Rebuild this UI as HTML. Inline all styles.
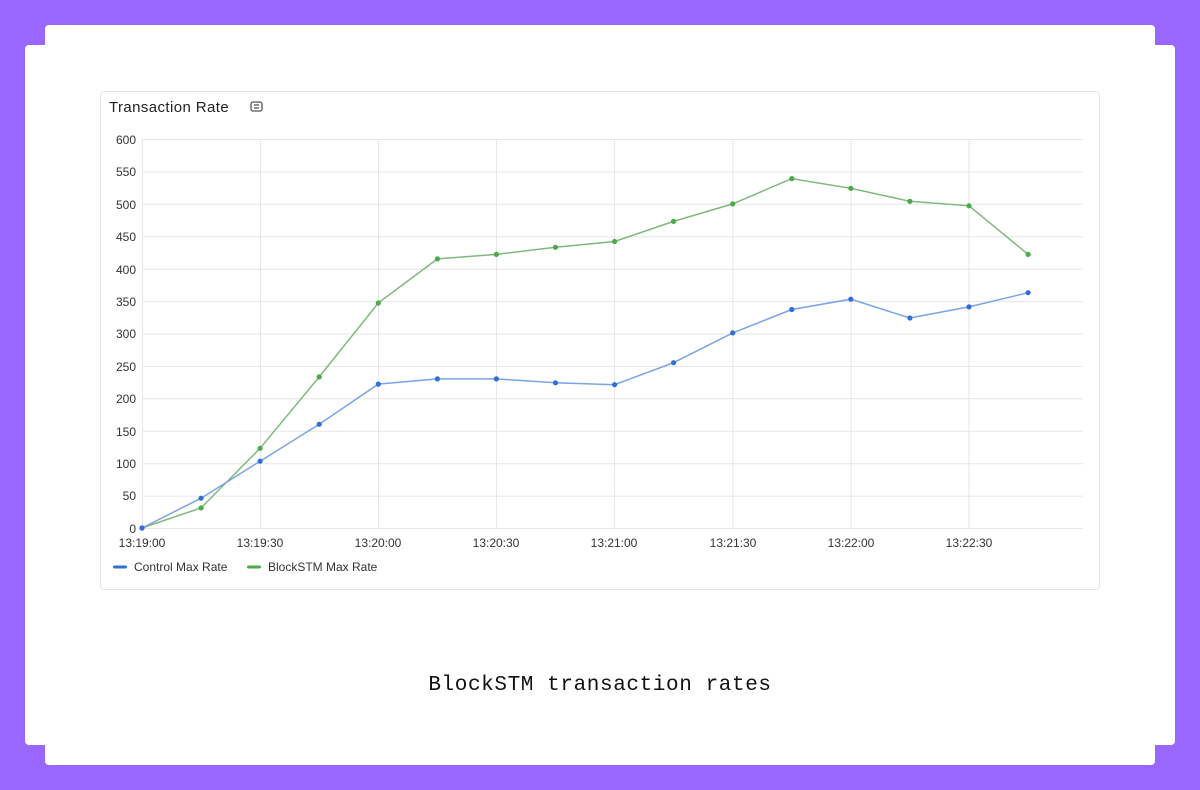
<!DOCTYPE html>
<html><head><style>
body{margin:0;width:1200px;height:790px;background:#9966ff;position:relative;overflow:hidden;font-family:"Liberation Sans",sans-serif}
.w{position:absolute;background:#fff;border-radius:4px}
</style></head><body>
<div class="w" style="left:45px;top:25px;width:1110px;height:740px"></div>
<div class="w" style="left:25px;top:45px;width:1150px;height:700px"></div>
<svg width="1200" height="790" style="position:absolute;left:0;top:0" font-family="Liberation Sans, sans-serif">
<rect x="100.5" y="91.5" width="999" height="498" rx="4" fill="#fff" stroke="#e4e4e7"/>
<text x="109" y="112" font-size="15" letter-spacing="0.4" fill="#222">Transaction Rate</text>
<g fill="none" stroke="#555" stroke-width="1.3"><rect x="251" y="102" width="11" height="9" rx="2"/><line x1="254" y1="105" x2="259" y2="105"/><line x1="254" y1="108" x2="259" y2="108"/></g>
<g stroke="#e6e6e6" stroke-width="1">
<line x1="142" x2="1083" y1="139.5" y2="139.5"/><line x1="142" x2="1083" y1="171.9" y2="171.9"/><line x1="142" x2="1083" y1="204.3" y2="204.3"/><line x1="142" x2="1083" y1="236.8" y2="236.8"/><line x1="142" x2="1083" y1="269.2" y2="269.2"/><line x1="142" x2="1083" y1="301.6" y2="301.6"/><line x1="142" x2="1083" y1="334" y2="334"/><line x1="142" x2="1083" y1="366.4" y2="366.4"/><line x1="142" x2="1083" y1="398.8" y2="398.8"/><line x1="142" x2="1083" y1="431.2" y2="431.2"/><line x1="142" x2="1083" y1="463.7" y2="463.7"/><line x1="142" x2="1083" y1="496.1" y2="496.1"/><line x1="142" x2="1083" y1="528.5" y2="528.5"/>
<line y1="139" y2="528" x1="142.5" x2="142.5"/><line y1="139" y2="528" x1="260.5" x2="260.5"/><line y1="139" y2="528" x1="378.5" x2="378.5"/><line y1="139" y2="528" x1="496.5" x2="496.5"/><line y1="139" y2="528" x1="614.5" x2="614.5"/><line y1="139" y2="528" x1="733" x2="733"/><line y1="139" y2="528" x1="851" x2="851"/><line y1="139" y2="528" x1="969" x2="969"/>
</g>
<g font-size="12" fill="#333" text-anchor="end">
<text x="136" y="144">600</text><text x="136" y="176">550</text><text x="136" y="209">500</text><text x="136" y="241">450</text><text x="136" y="274">400</text><text x="136" y="306">350</text><text x="136" y="338">300</text><text x="136" y="371">250</text><text x="136" y="403">200</text><text x="136" y="436">150</text><text x="136" y="468">100</text><text x="136" y="500">50</text><text x="136" y="533">0</text>
</g>
<g font-size="12" fill="#333" text-anchor="middle">
<text x="142" y="547">13:19:00</text><text x="260" y="547">13:19:30</text><text x="378" y="547">13:20:00</text><text x="496" y="547">13:20:30</text><text x="614" y="547">13:21:00</text><text x="733" y="547">13:21:30</text><text x="851" y="547">13:22:00</text><text x="969" y="547">13:22:30</text>
</g>
<polyline fill="none" stroke="#80b87d" stroke-width="1.5" points="142,528 201.1,507.9 260.1,448.3 319.2,376.9 378.3,303 437.4,258.9 496.4,254.4 555.5,247.3 614.6,241.5 673.6,221.4 732.7,203.9 791.8,178.6 850.8,188.3 909.9,201.3 969,205.8 1028.1,254.4"/>
<polyline fill="none" stroke="#7aa3e8" stroke-width="1.5" points="142,528 201.1,498.2 260.1,461.2 319.2,424.3 378.3,384.1 437.4,378.9 496.4,378.9 555.5,382.8 614.6,384.7 673.6,362.7 732.7,332.9 791.8,309.5 850.8,299.2 909.9,318 969,306.9 1028.1,292.7"/>
<g fill="#4caa4a">
<circle cx="142" cy="528" r="2.6"/><circle cx="201.1" cy="507.9" r="2.6"/><circle cx="260.1" cy="448.3" r="2.6"/><circle cx="319.2" cy="376.9" r="2.6"/><circle cx="378.3" cy="303" r="2.6"/><circle cx="437.4" cy="258.9" r="2.6"/><circle cx="496.4" cy="254.4" r="2.6"/><circle cx="555.5" cy="247.3" r="2.6"/><circle cx="614.6" cy="241.5" r="2.6"/><circle cx="673.6" cy="221.4" r="2.6"/><circle cx="732.7" cy="203.9" r="2.6"/><circle cx="791.8" cy="178.6" r="2.6"/><circle cx="850.8" cy="188.3" r="2.6"/><circle cx="909.9" cy="201.3" r="2.6"/><circle cx="969" cy="205.8" r="2.6"/><circle cx="1028.1" cy="254.4" r="2.6"/>
</g>
<g fill="#2f6fd8">
<circle cx="142" cy="528" r="2.6"/><circle cx="201.1" cy="498.2" r="2.6"/><circle cx="260.1" cy="461.2" r="2.6"/><circle cx="319.2" cy="424.3" r="2.6"/><circle cx="378.3" cy="384.1" r="2.6"/><circle cx="437.4" cy="378.9" r="2.6"/><circle cx="496.4" cy="378.9" r="2.6"/><circle cx="555.5" cy="382.8" r="2.6"/><circle cx="614.6" cy="384.7" r="2.6"/><circle cx="673.6" cy="362.7" r="2.6"/><circle cx="732.7" cy="332.9" r="2.6"/><circle cx="791.8" cy="309.5" r="2.6"/><circle cx="850.8" cy="299.2" r="2.6"/><circle cx="909.9" cy="318" r="2.6"/><circle cx="969" cy="306.9" r="2.6"/><circle cx="1028.1" cy="292.7" r="2.6"/>
</g>
<rect x="113" y="565.5" width="14" height="3" rx="1.5" fill="#2f6fd8"/>
<text x="134" y="571" font-size="12" fill="#333">Control Max Rate</text>
<rect x="247" y="565.5" width="14" height="3" rx="1.5" fill="#4caa4a"/>
<text x="268" y="571" font-size="12" fill="#333">BlockSTM Max Rate</text>
<text x="600" y="690" font-size="21" letter-spacing="0.6" fill="#111" text-anchor="middle" font-family="Liberation Mono, monospace">BlockSTM transaction rates</text>
</svg>
</body></html>
